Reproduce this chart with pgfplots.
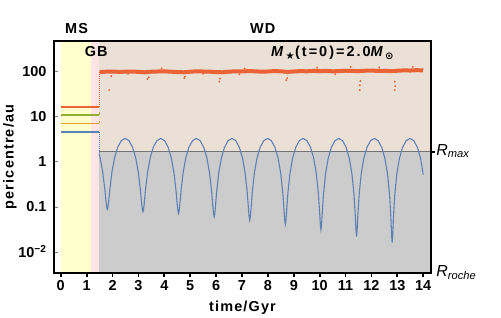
\documentclass[border=0pt]{standalone}
\usepackage{pgfplots}
\pgfplotsset{compat=1.18}
\usepackage{fontspec}
\setmainfont{Liberation Sans}
\newfontfamily\dejavu{DejaVu Sans}
\newfontfamily\spaced{Liberation Sans}[LetterSpace=8]
\newfontfamily\wide{Liberation Sans}[LetterSpace=14]
\definecolor{mblue}{HTML}{5E81B5}
\definecolor{mred}{HTML}{EB6235}
\definecolor{mgreen}{HTML}{8FB032}
\definecolor{morange}{HTML}{E19C24}
\definecolor{bgyellow}{HTML}{FFFFCC}
\definecolor{bgpink}{HTML}{FCE4E4}
\definecolor{bgbeige}{HTML}{EBE0D6}
\definecolor{bggray}{HTML}{CCCCCC}
\pgfplotstableread{
t q
1.48 1.52
1.52 1.233
1.62 0.601
1.70 0.253
1.75 0.130
1.78 0.095
1.80 0.088
1.82 0.095
1.85 0.130
1.90 0.253
1.98 0.601
2.08 1.233
2.20 2.102
2.34 2.949
2.4875 3.3
2.635 2.947
2.775 2.098
2.895 1.226
2.995 0.593
3.075 0.243
3.125 0.120
3.155 0.085
3.175 0.078
3.195 0.085
3.225 0.120
3.275 0.243
3.355 0.593
3.455 1.226
3.575 2.098
3.715 2.947
3.8625 3.3
4.01 2.947
4.15 2.095
4.27 1.222
4.37 0.587
4.45 0.237
4.50 0.113
4.53 0.078
4.55 0.071
4.57 0.078
4.60 0.113
4.65 0.237
4.73 0.587
4.83 1.222
4.95 2.095
5.09 2.947
5.2375 3.3
5.385 2.946
5.525 2.091
5.645 1.215
5.745 0.578
5.825 0.226
5.875 0.102
5.905 0.067
5.925 0.060
5.945 0.067
5.975 0.102
6.025 0.226
6.105 0.578
6.205 1.215
6.325 2.091
6.465 2.946
6.6125 3.3
6.76 2.944
6.90 2.088
7.02 1.208
7.12 0.569
7.20 0.217
7.25 0.092
7.28 0.057
7.30 0.050
7.32 0.057
7.35 0.092
7.40 0.217
7.48 0.569
7.58 1.208
7.70 2.088
7.84 2.944
7.9875 3.3
8.135 2.943
8.275 2.084
8.395 1.202
8.495 0.562
8.575 0.208
8.625 0.083
8.655 0.048
8.675 0.041
8.695 0.048
8.725 0.083
8.775 0.208
8.855 0.562
8.955 1.202
9.075 2.084
9.215 2.943
9.3625 3.3
9.51 2.942
9.65 2.081
9.77 1.196
9.87 0.553
9.95 0.199
10.00 0.073
10.03 0.038
10.05 0.031
10.07 0.038
10.10 0.073
10.15 0.199
10.23 0.553
10.33 1.196
10.45 2.081
10.59 2.942
10.7375 3.3
10.885 2.941
11.025 2.077
11.145 1.190
11.245 0.546
11.325 0.190
11.375 0.065
11.405 0.029
11.425 0.022
11.445 0.029
11.475 0.065
11.525 0.190
11.605 0.546
11.705 1.190
11.825 2.077
11.965 2.941
12.1125 3.3
12.26 2.941
12.40 2.075
12.52 1.186
12.62 0.541
12.70 0.185
12.75 0.059
12.78 0.023
12.80 0.016
12.82 0.023
12.85 0.059
12.90 0.185
12.98 0.541
13.08 1.186
13.20 2.075
13.34 2.941
13.4875 3.3
13.635 2.94
13.775 2.10
13.895 1.22
14.0 0.52
}\bluecurve
\pgfplotstableread{
t q
1.5 98
1.75 100
2.0 101
2.25 99
2.5 100
2.75 101
3.0 99
3.25 97
3.5 100
3.75 101
4.0 102
4.25 100
4.5 98
4.75 97
5.0 100
5.25 102
5.5 101
5.75 100
6.0 98
6.25 97
6.5 100
6.75 102
7.0 101
7.25 103
7.5 102
7.75 100
8.0 101
8.25 103
8.5 102
8.75 99
9.0 101
9.25 103
9.5 102
9.75 104
10.0 103
10.25 104
10.5 102
10.75 103
11.0 105
11.25 104
11.5 103
11.75 105
12.0 106
12.25 104
12.5 105
12.75 103
13.0 105
13.25 107
13.5 106
13.75 108
14.0 107
}\redband
\begin{document}
\begin{tikzpicture}
\begin{axis}[
  width=377bp, height=232bp, scale only axis,
  ymode=log,
  xmin=-0.26, xmax=14.3, ymin=0.0034, ymax=480,
  axis on top, clip=false,
  xtick={0,1,...,14},
  xticklabels={0,1,2,3,4,5,6,7,8,9,10,11,12,13,14},
  ytick={0.01,0.1,1,10,100},
  yticklabels={{10\textsuperscript{\textminus2}},0.1,1,10,100},
  yminorticks=false, xminorticks=false,
  tick align=outside, major tick length=4bp,
  xtick pos=lower, ytick pos=left,
  x tick style={black, line width=1.8pt},
  y tick style={gray, line width=0.6pt, xshift=4bp},
  axis line style={line width=1.9pt},
  ticklabel style={font=\bfseries\fontsize{14.5}{16}\selectfont},
  xlabel={\spaced\bfseries time/Gyr},
  ylabel={\spaced\bfseries pericentre/au},
  label style={font=\fontsize{14.5}{16}\selectfont},
  xlabel style={yshift=-3bp},
  ylabel style={yshift=-5bp},
]
\coordinate (ll) at (rel axis cs:0,0);
% background regions
\addplot[draw=none, fill=bgyellow] coordinates {(0,0.0034) (1.17,0.0034) (1.17,480) (0,480)};
\addplot[draw=none, fill=bgpink] coordinates {(1.17,0.0034) (1.48,0.0034) (1.48,480) (1.17,480)};
\addplot[draw=none, fill=bgbeige] coordinates {(1.48,1.67) (14.3,1.67) (14.3,480) (1.48,480)};
\addplot[draw=none, fill=bggray] coordinates {(1.48,0.0034) (14.3,0.0034) (14.3,1.67) (1.48,1.67)};
\addplot[gray!90!black, line width=0.6pt] coordinates {(1.48,1.67) (14.3,1.67)};
\addplot[black, line width=1.6pt] coordinates {(14.3,1.67) (14.45,1.67)};
% main-sequence orbits
\addplot[mred, line width=1.7pt] coordinates {(0,16.7) (1.48,16.7)};
\addplot[mgreen, line width=1.7pt] coordinates {(0,11) (1.48,11)};
\addplot[morange, line width=1.7pt] coordinates {(0,7.1) (1.48,7.1)};
\addplot[mblue, line width=1.7pt] coordinates {(0,4.6) (1.48,4.6)};
\addplot[mgreen, line width=1pt] coordinates {(1.48,11) (1.48,12.5)};
\addplot[morange, line width=1pt] coordinates {(1.48,7.1) (1.48,8)};
\addplot[mred, line width=1pt, densely dotted] coordinates {(1.48,16.7) (1.48,100)};
\addplot[mblue, line width=1pt, densely dotted] coordinates {(1.48,4.6) (1.48,1.6)};
% white-dwarf phase
\addplot[mred, line width=4pt] table[x=t,y=q] {\redband};
\addplot[mred, only marks, mark=*, mark size=0.7pt] coordinates {
 (1.87,39) (1.95,80) (3.35,69) (3.4,75) (4.77,72) (4.8,78) (6.13,60) (6.15,70)
 (8.71,65) (8.75,72) (11.55,39) (11.55,50) (11.57,62) (12.9,39) (12.92,48) (12.9,60) (12.3,125) (11.2,128)
 (2.6,90) (5.5,90) (7.1,118) (9.9,122) (13.6,128) (10.6,88) (3.9,119) (6.9,88)};
\addplot[mblue, line width=1.1pt] table[x=t,y=q] {\bluecurve};
% text
\node[font=\spaced\bfseries\fontsize{14.5}{16}\selectfont, anchor=base] at (axis cs:0.61,710) {MS};
\node[font=\spaced\bfseries\fontsize{14.5}{16}\selectfont, anchor=base] at (axis cs:7.8,710) {WD};
\node[font=\spaced\bfseries\fontsize{14.5}{16}\selectfont, anchor=base] at (axis cs:1.37,213) {GB};
\node[font=\wide\bfseries\fontsize{14.5}{16}\selectfont, anchor=base] at (axis cs:10.5,213)
  {\textit{M}\textsubscript{\dejavu\bfseries ★}(t=0)=2.0\textit{M}\textsubscript{\dejavu\bfseries ⊙}};
\node[font=\fontsize{16}{18}\selectfont, anchor=base west, inner sep=0pt] at (axis cs:14.5,1.41)
  {\textit{R}\textsubscript{\textit{max}}};
\node[font=\fontsize{16}{18}\selectfont, anchor=base west, inner sep=0pt] at (axis cs:14.5,0.0028)
  {\textit{R}\textsubscript{\textit{roche}}};
\end{axis}
\pgfresetboundingbox
\path[use as bounding box] ([shift={(-54bp,-45bp)}]ll) rectangle ++(501bp,318bp);
\end{tikzpicture}
\end{document}
